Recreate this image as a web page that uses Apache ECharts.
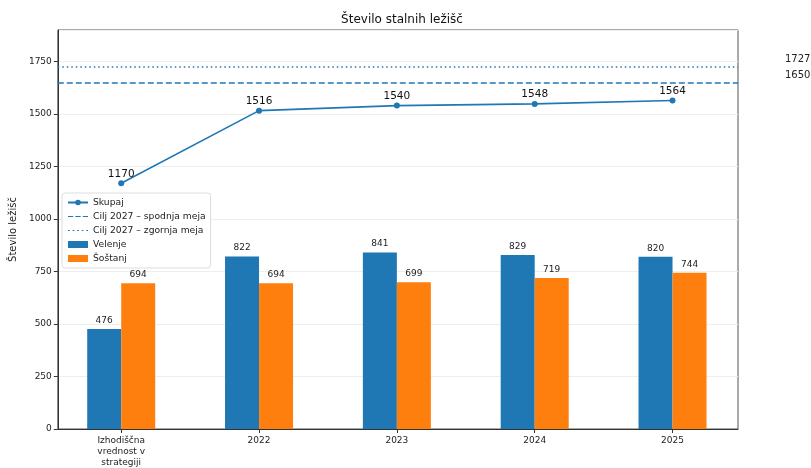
<!DOCTYPE html>
<html><head><meta charset="utf-8">
<script src="https://cdn.jsdelivr.net/npm/echarts@6/dist/echarts.min.js"></script>
<style>html,body{margin:0;padding:0;background:#fff}#c{width:811px;height:468px}</style>
</head><body><div id="c"></div>
<script>
const categories = ['Izhodiščna\nvrednost v\nstrategiji', '2022', '2023', '2024', '2025'];
const velenje = [476, 822, 841, 829, 820];
const sostanj = [694, 694, 699, 719, 744];
const skupaj = [1170, 1516, 1540, 1548, 1564];
const ciljSpodnja = 1650;
const ciljZgornja = 1727;
const yTicks = [0, 250, 500, 750, 1000, 1250, 1500, 1750];

const idx = categories.map((_, i) => i);
const pair = arr => arr.map((v, i) => [i, v]);
const blue = '#1f77b4', orange = '#ff7f0e';
const chart = echarts.init(document.getElementById('c'));
const font = 'DejaVu Sans';
chart.setOption({
  animation: false,
  textStyle: {fontFamily: font},
  title: {text: 'Število stalnih ležišč', left: 397, textAlign: 'center', top: 9,
    textStyle: {fontSize: 12, fontWeight: 'normal', color: '#111', fontFamily: font}},
  grid: {left: 57, right: 73, top: 30, bottom: 36, show: true, borderColor: '#555', borderWidth: 1},
  legend: {
    orient: 'vertical', left: 62, top: 193, itemGap: 5, itemWidth: 20, itemHeight: 7,
    backgroundColor: '#fff', borderColor: '#ddd', borderWidth: 1, borderRadius: 3, padding: [5, 5],
    textStyle: {fontSize: 9.2, color: '#222', fontFamily: font},
    data: [
      {name: 'Skupaj'},
      {name: 'Cilj 2027 – spodnja meja', icon: 'path://M0,4 L10,4 L10,6 L0,6 Z M14,4 L24,4 L24,6 L14,6 Z M28,4 L38,4 L38,6 L28,6Z'},
      {name: 'Cilj 2027 – zgornja meja', icon: 'path://M0,4 L3,4 L3,6 L0,6 Z M8,4 L11,4 L11,6 L8,6 Z M16,4 L19,4 L19,6 L16,6Z M24,4 L27,4 L27,6 L24,6Z M32,4 L35,4 L35,6 L32,6Z'},
      {name: 'Velenje', icon: 'rect'},
      {name: 'Šoštanj', icon: 'rect'}
    ]
  },
  xAxis: {
    type: 'value', min: -0.46, max: 4.475,
    splitLine: {show: false},
    axisLine: {onZero: false, lineStyle: {color: '#333'}},
    axisTick: {show: true, customValues: idx, lineStyle: {color: '#333'}, length: 4},
    axisLabel: {fontSize: 9, color: '#222', lineHeight: 11, margin: 6, customValues: idx,
      formatter: v => categories[Math.round(v)]}
  },
  yAxis: {
    type: 'value', min: 0, max: 1900, interval: 250,
    name: 'Število ležišč', nameLocation: 'middle', nameGap: 35, nameRotate: 90,
    nameTextStyle: {fontSize: 10, color: '#222'},
    axisLine: {show: true, onZero: false, lineStyle: {color: '#333'}},
    axisTick: {show: true, length: 4, lineStyle: {color: '#333'}},
    axisLabel: {fontSize: 9, color: '#222', margin: 6, showMaxLabel: false,
      formatter: v => yTicks.includes(v) ? String(v) : ''},
    splitLine: {lineStyle: {color: '#eee'}}
  },
  series: [
    {name: 'Velenje', type: 'bar', data: pair(velenje), barWidth: 34, barGap: '0%',
      itemStyle: {color: blue},
      label: {show: true, position: 'top', fontSize: 9, color: '#222', distance: 4, formatter: p => p.value[1]}},
    {name: 'Šoštanj', type: 'bar', data: pair(sostanj), barWidth: 34, barGap: '0%',
      itemStyle: {color: orange},
      label: {show: true, position: 'top', fontSize: 9, color: '#222', distance: 4, formatter: p => p.value[1]}},
    {name: 'Skupaj', type: 'line', data: pair(skupaj), symbol: 'circle', symbolSize: 6, z: 5,
      itemStyle: {color: blue}, lineStyle: {color: blue, width: 1.6},
      label: {show: true, position: 'top', fontSize: 10.5, color: '#111', distance: 1, formatter: p => p.value[1]}},
    {name: 'Cilj 2027 – spodnja meja', type: 'line', data: [], symbol: 'none',
      itemStyle: {color: blue}, lineStyle: {color: blue, type: 'dashed'},
      markLine: {symbol: 'none', silent: true,
        lineStyle: {color: blue, type: [6, 3], width: 1.6},
        label: {position: 'end', formatter: ciljSpodnja + '\n ', fontSize: 10, lineHeight: 14, color: '#222', distance: 47},
        data: [{yAxis: ciljSpodnja}]}},
    {name: 'Cilj 2027 – zgornja meja', type: 'line', data: [], symbol: 'none',
      itemStyle: {color: blue}, lineStyle: {color: blue, type: 'dotted'},
      markLine: {symbol: 'none', silent: true,
        lineStyle: {color: blue, type: [1.5, 3], width: 1.6},
        label: {position: 'end', formatter: ciljZgornja + '\n ', fontSize: 10, lineHeight: 14, color: '#222', distance: 47},
        data: [{yAxis: ciljZgornja}]}}
  ]
});
</script></body></html>
